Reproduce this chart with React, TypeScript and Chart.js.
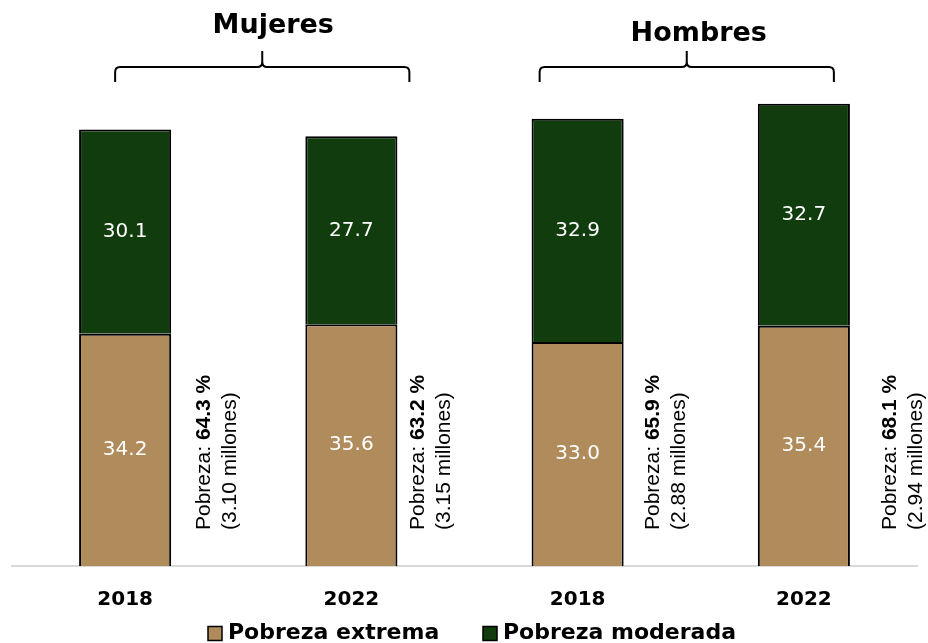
import React, { useEffect, useRef } from "react";
import { Chart, registerables } from "chart.js";

Chart.register(...registerables);

const categories = ["2018", "2022", "2018", "2022"];
const extrema = [34.2, 35.6, 33.0, 35.4];
const moderada = [30.1, 27.7, 32.9, 32.7];
const pobrezaTotal = ["64.3", "63.2", "65.9", "68.1"];
const millones = ["3.10", "3.15", "2.88", "2.94"];
const groups = ["Mujeres", "Hombres"];
const seriesNames = ["Pobreza extrema", "Pobreza moderada"];

const TAN = "#B08B5C";
const GREEN = "#113C0E";

const overlayPlugin = {
  id: "overlay",
  afterDatasetsDraw(chart: any) {
    const ctx = chart.ctx;
    const x = chart.scales.x;
    // value labels inside segments
    ctx.save();
    ctx.fillStyle = "#ffffff";
    ctx.font = "20px 'DejaVu Sans'";
    ctx.textAlign = "center";
    ctx.textBaseline = "middle";
    chart.data.datasets.forEach((ds: any, di: number) => {
      const meta = chart.getDatasetMeta(di);
      meta.data.forEach((bar: any, i: number) => {
        const v = ds.data[i];
        ctx.fillText(v.toFixed(1), bar.x, (bar.y + bar.base) / 2);
      });
    });
    ctx.restore();

    // rotated annotations
    const dx = [79, 67, 76, 86];
    ctx.save();
    ctx.fillStyle = "#000000";
    ctx.textBaseline = "middle";
    ctx.textAlign = "left";
    categories.forEach((_, i) => {
      const cx = x.getPixelForValue(i) + dx[i];
      const by = 530;
      ctx.save();
      ctx.translate(cx, by);
      ctx.rotate(-Math.PI / 2);
      ctx.font = "21px 'Liberation Sans'";
      const pre = "Pobreza: ";
      ctx.fillText(pre, 0, 0);
      const w = ctx.measureText(pre).width;
      ctx.font = "bold 21px 'Liberation Sans'";
      ctx.fillText(pobrezaTotal[i] + " %", w, 0);
      ctx.font = "21px 'Liberation Sans'";
      ctx.fillText("(" + millones[i] + " millones)", 0, 26);
      ctx.restore();
    });
    ctx.restore();

    // braces + group titles
    const braceDefs = [
      { a: 0, b: 1, l: -10, r: 58, ty: 26, tdx: 11 },
      { a: 2, b: 3, l: -38, r: 30, ty: 34, tdx: 12 },
    ];
    ctx.save();
    ctx.strokeStyle = "#000000";
    ctx.lineWidth = 2;
    braceDefs.forEach((g, gi) => {
      const x1 = x.getPixelForValue(g.a) + g.l;
      const x2 = x.getPixelForValue(g.b) + g.r;
      const xm = (x1 + x2) / 2;
      const yl = 67;
      const ye = 82;
      const yt = 51;
      const rr = 5;
      ctx.beginPath();
      ctx.moveTo(x1, ye);
      ctx.lineTo(x1, yl + rr);
      ctx.quadraticCurveTo(x1, yl, x1 + rr, yl);
      ctx.lineTo(xm - rr, yl);
      ctx.quadraticCurveTo(xm, yl, xm, yl - rr);
      ctx.lineTo(xm, yt);
      ctx.moveTo(xm, yl - rr);
      ctx.quadraticCurveTo(xm, yl, xm + rr, yl);
      ctx.lineTo(x2 - rr, yl);
      ctx.quadraticCurveTo(x2, yl, x2, yl + rr);
      ctx.lineTo(x2, ye);
      ctx.stroke();
      ctx.fillStyle = "#000000";
      ctx.font = "bold 27px 'DejaVu Sans'";
      ctx.textAlign = "center";
      ctx.textBaseline = "middle";
      ctx.fillText(groups[gi], xm + g.tdx, g.ty);
    });
    ctx.restore();

    // legend
    ctx.save();
    ctx.font = "bold 22px 'DejaVu Sans'";
    ctx.textBaseline = "middle";
    ctx.textAlign = "left";
    const starts = [208, 483];
    chart.data.datasets.forEach((ds: any, di: number) => {
      const bx = starts[di];
      const cy = 633.5;
      ctx.fillStyle = ds.backgroundColor;
      ctx.fillRect(bx, cy - 7, 14, 14);
      ctx.strokeStyle = "#000000";
      ctx.lineWidth = 1.5;
      ctx.strokeRect(bx, cy - 7, 14, 14);
      ctx.fillStyle = "#000000";
      ctx.fillText(ds.label, bx + 20, cy);
    });
    ctx.restore();
  },
};

export default function App() {
  const ref = useRef<HTMLCanvasElement | null>(null);
  useEffect(() => {
    if (!ref.current) return;
    const chart = new Chart(ref.current, {
      type: "bar",
      data: {
        labels: categories,
        datasets: [
          {
            label: seriesNames[0],
            data: extrema,
            backgroundColor: TAN,
            borderColor: "#000000",
            borderWidth: 2,
            barPercentage: 0.407,
            categoryPercentage: 1,
          },
          {
            label: seriesNames[1],
            data: moderada,
            backgroundColor: GREEN,
            borderColor: "#000000",
            borderWidth: 2,
            barPercentage: 0.407,
            categoryPercentage: 1,
          },
        ],
      },
      options: {
        animation: false,
        responsive: false,
        maintainAspectRatio: false,
        layout: { padding: { top: 23, left: 12, right: 11, bottom: 0 } },
        plugins: {
          legend: { display: false },
          tooltip: { enabled: false },
        },
        scales: {
          x: {
            stacked: true,
            grid: { display: false },
            border: { display: true, color: "#d9d9d9", width: 2 },
            ticks: {
              color: "#000000",
              font: { family: "'DejaVu Sans'", size: 20, weight: "bold" },
              padding: 14,
            },
            afterFit: (scale: any) => {
              scale.height = 77;
            },
          },
          y: {
            stacked: true,
            display: false,
            min: 0,
            max: 80,
          },
        },
      },
      plugins: [overlayPlugin],
    });
    return () => chart.destroy();
  }, []);
  return (
    <div style={{ position: "fixed", left: 0, top: 0, width: 928, height: 643, background: "#fff" }}>
      <canvas ref={ref} width={928} height={643} style={{ display: "block" }} />
    </div>
  );
}
